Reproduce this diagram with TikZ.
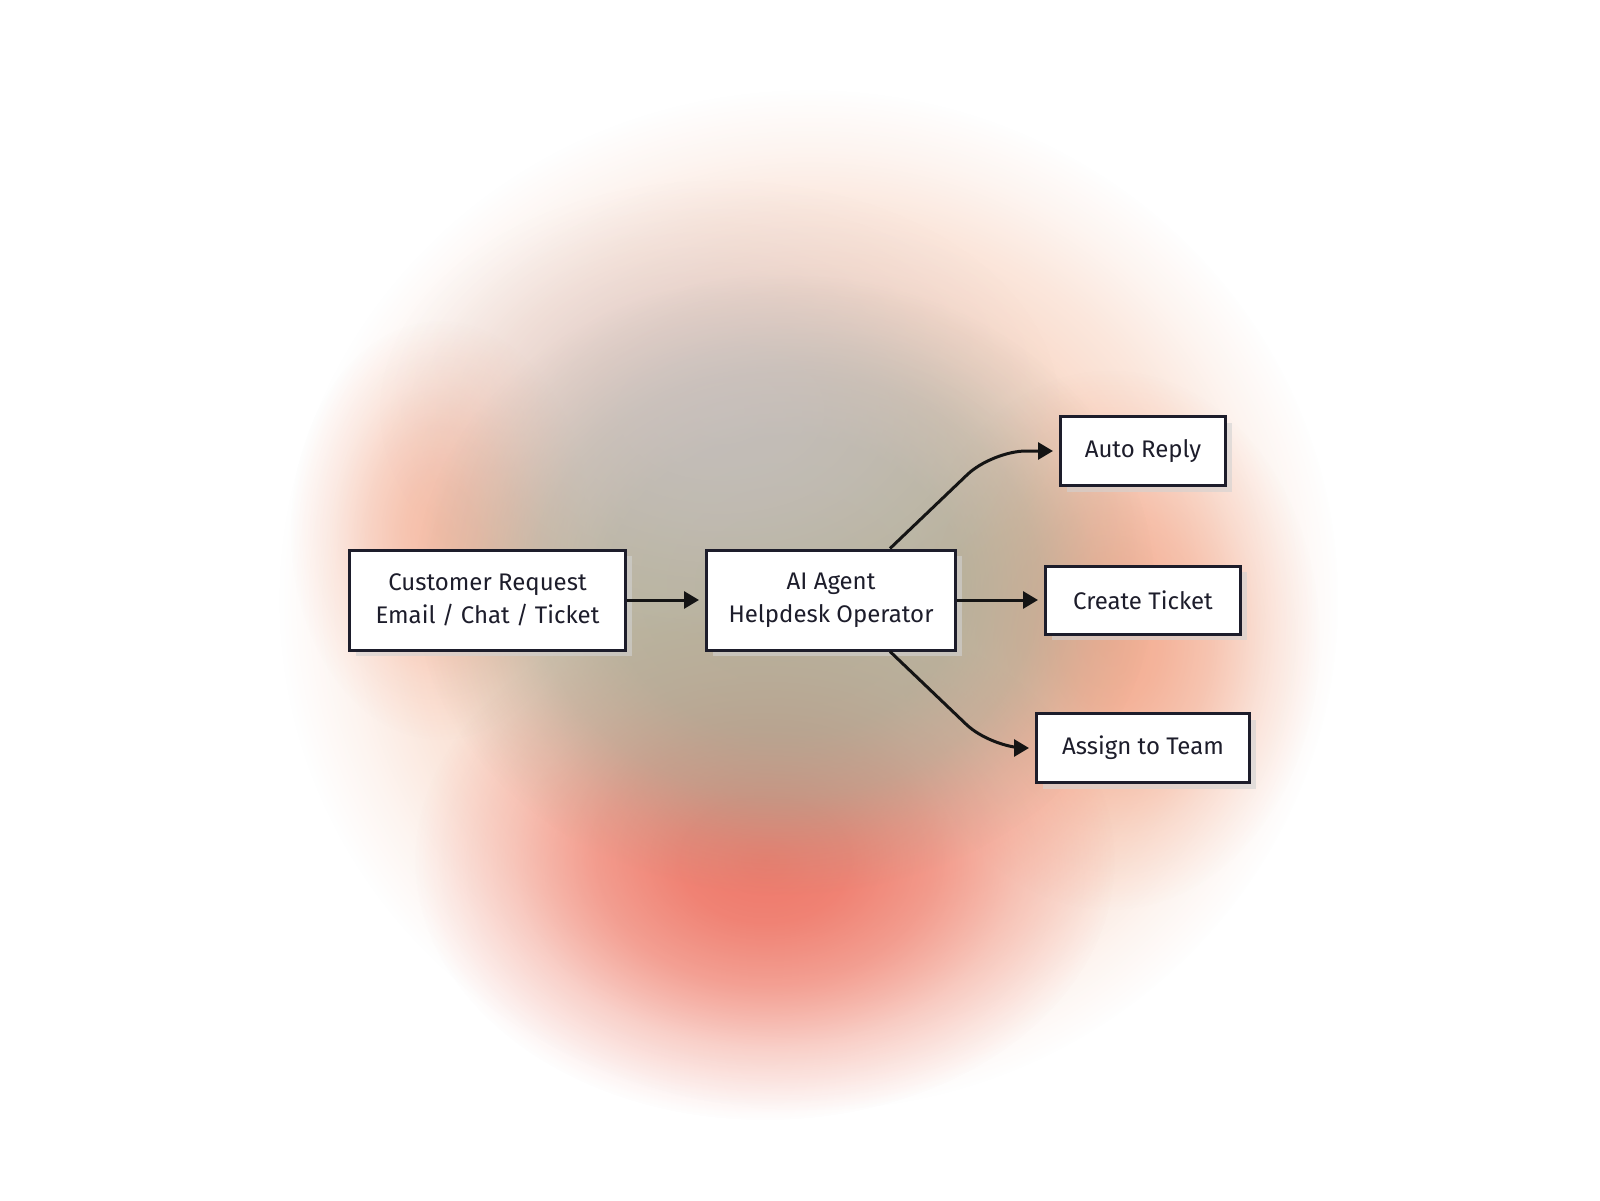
\documentclass[tikz,border=0pt]{standalone}
\usepackage{fontspec}
\setmainfont{Fira Sans}
\usetikzlibrary{arrows.meta,fadings,calc}
\definecolor{ink}{HTML}{1D1D2B}
\definecolor{halo}{HTML}{F6C4AA}
\definecolor{redblob}{HTML}{EE6E60}
\definecolor{orangeblob}{HTML}{F0906E}
\definecolor{grayblob}{HTML}{A2A994}
\definecolor{lilacblob}{HTML}{CAC4CA}
\pgfdeclareradialshading{blobshade}{\pgfpointorigin}{color(0bp)=(pgftransparent!0); color(6bp)=(pgftransparent!10); color(12bp)=(pgftransparent!35); color(18bp)=(pgftransparent!70); color(25bp)=(pgftransparent!100); color(50bp)=(pgftransparent!100)}
\pgfdeclarefading{blob}{\pgfuseshading{blobshade}}
\pgfdeclareradialshading{diskshade}{\pgfpointorigin}{color(0bp)=(pgftransparent!0); color(12bp)=(pgftransparent!5); color(17bp)=(pgftransparent!30); color(21bp)=(pgftransparent!70); color(25bp)=(pgftransparent!100); color(50bp)=(pgftransparent!100)}
\pgfdeclarefading{disk}{\pgfuseshading{diskshade}}
\pgfdeclareradialshading{haloshade}{\pgfpointorigin}{color(0bp)=(pgftransparent!0); color(10bp)=(pgftransparent!5); color(15bp)=(pgftransparent!22); color(19bp)=(pgftransparent!50); color(22bp)=(pgftransparent!78); color(25bp)=(pgftransparent!100); color(50bp)=(pgftransparent!100)}
\pgfdeclarefading{halofade}{\pgfuseshading{haloshade}}
\newcommand{\softblob}[7]{\fill[#5, opacity=#6, path fading=#7] (#1,#2) ellipse ({#3} and {#4});}
\tikzset{
  box/.style={draw=ink, line width=3pt, fill=white, text=ink, align=center,
    font=\fontsize{24}{33}\selectfont, inner sep=0pt,
    preaction={draw=none, fill=gray!35, opacity=0.6, transform canvas={shift={(6pt,-6pt)}}}},
  arr/.style={draw=black!92, line width=3pt, -{Triangle[length=15pt,width=17pt]}, shorten >=6pt},
}
\begin{document}
\begin{tikzpicture}[x=1pt, y=-1pt]
\fill[white] (0,0) rectangle (1600,1200);
\useasboundingbox (0,0) rectangle (1600,1200);
% background blob
\softblob{810}{600}{530}{510}{halo}{0.8}{halofade}
\softblob{440}{530}{150}{210}{orangeblob}{0.45}{blob}
\softblob{1110}{640}{210}{270}{orangeblob}{0.6}{blob}
\softblob{765}{860}{350}{260}{redblob}{0.9}{blob}
\softblob{785}{585}{370}{310}{grayblob}{0.75}{disk}
\softblob{720}{410}{340}{230}{lilacblob}{0.6}{blob}
% nodes
\node[box, minimum width=276pt, minimum height=100pt] (cust) at (487.5,600) {Customer Request\\Email / Chat / Ticket};
\node[box, minimum width=249pt, minimum height=100pt] (agent) at (831,600) {AI Agent\\Helpdesk Operator};
\node[box, minimum width=165pt, minimum height=69pt] (auto) at (1143,451) {Auto Reply};
\node[box, minimum width=195pt, minimum height=68pt] (create) at (1143,600) {Create Ticket};
\node[box, minimum width=213pt, minimum height=69pt] (assign) at (1143,748) {Assign to Team};
% connectors
\draw[arr] (cust) -- (agent);
\draw[arr] (agent) -- (create);
\draw[arr, rounded corners=34pt] ([xshift=59pt]agent.north) -- ([xshift=-67pt]auto.west) -- (auto.west);
\draw[arr, rounded corners=34pt] ([xshift=59pt]agent.south) -- ([xshift=-44pt]assign.west) -- (assign.west);
\end{tikzpicture}
\end{document}
